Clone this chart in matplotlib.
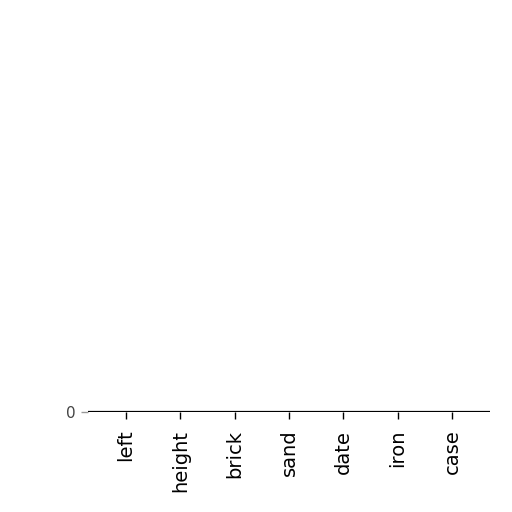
import matplotlib
matplotlib.use('Agg')
import matplotlib.pyplot as plt

# categories and their values (all sit on the zero line)
categories = ['left', 'height', 'brick', 'sand', 'date', 'iron', 'case']
values = [0, 0, 0, 0, 0, 0, 0]
y_ticks = [0]

fig = plt.figure(figsize=(5.12, 5.12), dpi=100)
ax = fig.add_axes([0.172, 0.196, 0.785, 0.78])

xs = list(range(len(categories)))
ax.bar(xs, values, width=0.6, color='#4c72b0')

# zero baseline
ax.axhline(0, color='black', linewidth=1.6, zorder=3)

for side in ['top', 'right', 'left', 'bottom']:
    ax.spines[side].set_visible(False)

ax.set_xlim(-0.7, 6.7)
ax.set_ylim(0, 1)
ax.set_xticks(xs)
ax.set_xticklabels(categories, rotation=90, fontsize=14)
ax.set_yticks(y_ticks)
ax.set_yticklabels([str(t) for t in y_ticks], fontsize=11, color='#444444')
ax.tick_params(axis='x', length=5, width=1, color='black', pad=8)
ax.tick_params(axis='y', length=5, width=1, color='#999999', pad=4)

fig.savefig('out.png', dpi=100)
